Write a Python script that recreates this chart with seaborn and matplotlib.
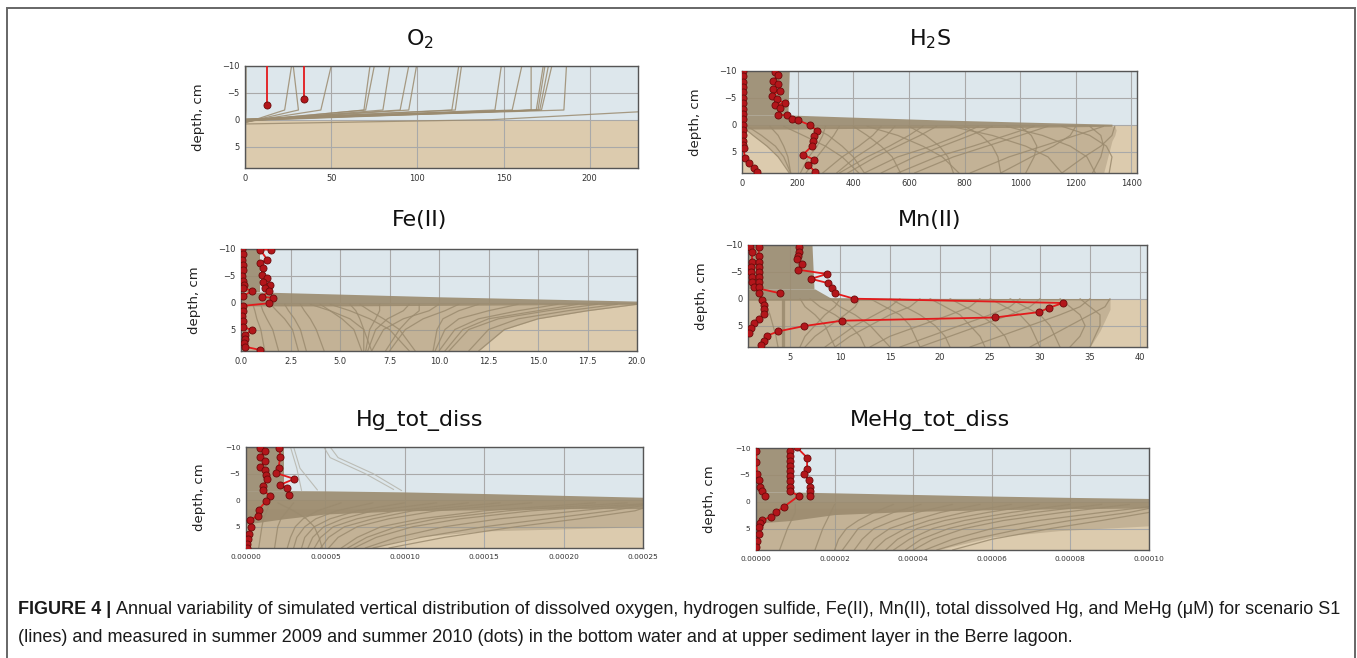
import numpy as np
import pandas as pd
import seaborn as sns
import matplotlib.pyplot as plt
from matplotlib.patches import Rectangle
from matplotlib.ticker import FormatStrFormatter
from matplotlib import font_manager

# ---------------- data ----------------
# O2: simulated profiles (value, depth) and measured points
O2_SIM_X = [[0.6, 0.6, 0.3, 0.3], [27, 23, 0], [28, 31, 0], [50, 44, 0], [72.5, 69, 0],
            [75, 70, 0], [84, 80, 0], [95, 90, 0], [99.5, 95, 0], [124, 120, 0],
            [125.6, 122, 0], [148.7, 145, 0], [160.6, 155, 0], [166, 166, 0],
            [173, 169, 0], [174, 170, 0], [176, 171, 0], [178, 172, 0],
            [186.5, 185, 0], [240, 236, 143, 0]]
O2_SIM_Y = [[-10, -1.8, 0.3, 9], [-10, -1.8, 0.6], [-10, -1.8, 0.5], [-10, -1.8, 0.4],
            [-10, -1.8, 0.3], [-10, -1.8, 0.2], [-10, -1.8, 0.3], [-10, -1.8, 0.1],
            [-10, -1.8, 0.2], [-10, -1.8, 0.0], [-10, -1.8, 0.1], [-10, -1.8, 0.0],
            [-10, -1.8, 0.1], [-10, -1.8, -0.1], [-10, -1.8, 0.0], [-10, -1.8, 0.1],
            [-10, -1.8, 0.2], [-10, -1.8, -0.1], [-10, -1.8, 0.0], [-10, -1.6, 0.0, 0.8]]
O2_OBS_X = [[13, 13], [34, 34]]
O2_OBS_Y = [[-12, -2.8], [-12, -3.8]]

# H2S
H2S_BUNDLE_DEPTH = [-10, -1.8]
H2S_BUNDLE_HI = [170, 165]
H2S_WEDGE_X = [0, 170, 400, 700, 1000, 1330]
H2S_WEDGE_TOP = [-1.8, -1.8, -1.4, -0.9, -0.5, -0.1]
H2S_WEDGE_BOT = [0.8, 0.8, 0.7, 0.6, 0.5, 0.3]
H2S_MESH_DEPTH = [0.3, 1, 2, 3, 5, 7, 9]
H2S_MESH_LEFT = [0, 15, 40, 65, 110, 145, 170]
H2S_MESH_RIGHT = [1340, 1345, 1340, 1330, 1320, 1310, 1300]
H2S_SED_DEPTH = [0.3, 2, 4, 6, 9]
H2S_SED = [[1340, 1330, 1290, 1230, 1150], [1300, 1200, 1080, 960, 820],
           [1200, 1180, 1120, 1040, 930], [1100, 1000, 880, 760, 620],
           [1000, 1040, 1060, 1050, 1020], [900, 820, 720, 620, 500],
           [800, 860, 900, 920, 930], [700, 640, 560, 480, 380],
           [600, 660, 710, 740, 760], [500, 470, 420, 360, 290],
           [400, 450, 500, 540, 570], [300, 290, 270, 240, 210],
           [250, 310, 360, 400, 440], [1250, 1290, 1300, 1290, 1260],
           [1150, 1250, 1310, 1330, 1320], [950, 1080, 1180, 1240, 1270],
           [750, 900, 1020, 1100, 1150], [650, 600, 530, 450, 350],
           [450, 560, 650, 720, 780], [350, 330, 300, 270, 230],
           [1050, 950, 830, 700, 560], [850, 780, 680, 560, 440],
           [550, 520, 470, 410, 340], [150, 220, 300, 360, 420],
           [0, 40, 90, 130, 170], [20, 70, 120, 150, 175], [100, 130, 150, 165, 175]]
H2S_OBS_X = [[4, 4, 4, 4, 4, 4, 4, 4, 4, 4, 4, 4, 4, 4, 4, 6, 10, 24, 42, 54],
             [120, 128, 111, 128, 111, 135, 108, 126, 155, 120, 138, 128, 161, 179, 203,
              245, 269, 259, 255, 251, 219, 259, 239, 263]]
H2S_OBS_Y = [[-10, -9, -8, -7, -6, -5, -4, -3, -2, -1, 0, 1, 2, 3, 3.7, 4.3, 6.2, 7.2, 8.1, 8.9],
             [-9.9, -9.2, -8.2, -7.6, -6.6, -6.3, -5.4, -4.7, -4.0, -3.7, -3.1, -1.8, -1.8,
              -1.0, -0.8, 0.1, 1.1, 2.1, 3.0, 4.0, 5.6, 6.5, 7.5, 8.8]]

# Fe(II)
FE_BUNDLE_DEPTH = [-10, -2.0]
FE_BUNDLE_HI = [0.95, 0.95]
FE_WEDGE_X = [0, 0.9, 5, 10, 15, 20]
FE_WEDGE_TOP = [-2.0, -2.0, -1.6, -1.1, -0.7, -0.3]
FE_WEDGE_BOT = [0.6, 0.6, 0.6, 0.5, 0.4, 0.3]
FE_MESH_DEPTH = [0.3, 1.5, 3, 5, 9]
FE_MESH_LEFT = [0, 0, 0, 0, 0]
FE_MESH_RIGHT = [20, 17.5, 15, 13.3, 12]
FE_SED_DEPTH = [0.3, 1.5, 3, 5, 9]
FE_SED = [[20, 17.5, 15, 13.3, 12], [18, 15.5, 13, 11.5, 10.5], [16, 14, 12, 10.8, 10],
          [14, 12.5, 11, 10.3, 9.8], [12, 11, 10.2, 9.9, 9.7], [10, 9.5, 8.2, 7.2, 6.6],
          [8.5, 8.2, 7.4, 6.8, 6.4], [7, 7, 6.8, 6.5, 6.3], [5.5, 5.8, 6.0, 6.2, 6.2],
          [4, 4.5, 5.1, 5.7, 6.1], [3, 3.2, 3.5, 3.8, 4.2], [2.2, 2.4, 2.7, 3.0, 3.3],
          [1.5, 1.8, 2.2, 2.6, 2.9], [1.0, 1.1, 1.3, 1.6, 1.9], [0.6, 0.7, 0.8, 1.0, 1.2],
          [19, 16.5, 14, 12.5, 11.5], [17, 15, 12.5, 11.2, 10.3], [11, 10.3, 9.2, 8.3, 7.5],
          [9, 9, 8.5, 8.0, 7.3], [6, 6.5, 7.2, 8, 8.8], [4.5, 5.5, 6.5, 7.5, 8.5],
          [3.5, 4.5, 5.5, 6.2, 6.6]]
FE_OBS_X = [[0.05, 0.1, 0.05, 0.1, 0.1, 0.05, 0.1, 0.15, 0.1, 0.55, 0.1],
            [1.5, 0.96, 1.33, 0.96, 1.1, 1.04, 1.33, 1.13, 1.46, 1.21, 1.43, 1.04, 1.6,
             1.43, 0.08, 0.1, 0.05, 0.1, 0.1, 0.54, 0.2, 0.2, 0.15, 0.2, 0.96]]
FE_OBS_Y = [[-10, -9, -8, -7, -6, -5, -4, -3.3, -2.8, -2.2, -1.2],
            [-9.9, -9.9, -8.0, -7.4, -6.4, -5.2, -4.6, -3.9, -3.3, -2.7, -2.1, -1.1, -0.9,
             0.1, 0.6, 1.5, 2.5, 3.5, 4.5, 5.1, 6.0, 6.8, 7.5, 8.2, 8.8]]

# Mn(II)
MN_BUNDLE_DEPTH = [-10, -1.8]
MN_BUNDLE_HI = [7.2, 7.4]
MN_WEDGE_X = [0.8, 7.5, 9, 20, 37]
MN_WEDGE_TOP = [-1.8, -1.8, -0.2, -0.05, 0]
MN_WEDGE_BOT = [0.3, 0.3, 0.3, 0.3, 0.2]
MN_MESH_DEPTH = [0, 2, 4, 6, 9]
MN_MESH_LEFT = [0.8, 0.8, 0.8, 0.8, 0.8]
MN_MESH_RIGHT = [37, 37, 36.5, 36, 35]
MN_SED_DEPTH = [0, 1.5, 3, 5, 7, 9]
MN_SED = [[4.2] * 6, [4.3] * 6, [4.4] * 6,
          [37, 36.5, 35, 33, 31, 29], [34, 35, 36, 36, 35.5, 35], [30, 29, 27, 24, 21, 18],
          [27, 28.5, 30, 31, 31.5, 32], [24, 23, 21, 18, 15, 13], [21, 22.5, 24, 25.5, 26.5, 27],
          [18, 17, 15, 13, 11, 9.5], [15, 16.5, 18, 19.5, 20.5, 21], [12, 11.5, 10.5, 9, 7.5, 6.5],
          [9, 10, 11.5, 13, 14, 15], [6, 6.5, 7.5, 8.5, 9, 9.5], [2.5, 2.7, 3.0, 3.3, 3.6, 3.8],
          [35, 34, 32, 29, 26, 23], [32, 33, 34, 34.5, 34, 33], [28, 27, 25, 22, 19, 16],
          [25, 26.5, 28, 29, 29.5, 30], [19, 20.5, 22, 23, 24, 24.5], [16, 15, 13.5, 11.5, 10, 8.5],
          [13, 14.5, 16, 17, 17.5, 18], [10, 9.5, 8.5, 7.5, 6.5, 6], [7, 8, 9.5, 11, 12, 12.5]]
MN_OBS_X = [[1.03, 1.2, 1.2, 1.1, 1.1, 1.2, 1.2, 1.37, 4.03],
            [1.87, 1.87, 1.87, 1.87, 1.87, 1.87, 1.87, 1.87, 1.87, 2.2, 2.37, 2.37, 2.37,
             1.87, 1.43, 1.1, 0.87],
            [5.9, 5.9, 5.8, 5.7, 6.2, 5.8, 8.7, 7.1, 8.8, 9.2, 9.5, 11.4, 32.3, 30.9, 29.9,
             25.5, 10.2, 6.4, 3.8, 2.7, 2.4, 2.1]]
MN_OBS_Y = [[-9.6, -8.7, -6.8, -5.9, -5.0, -4.1, -3.2, -2.1, -1.0],
            [-9.6, -8.0, -6.8, -5.9, -5.0, -4.1, -3.2, -2.1, -1.0, 0.2, 1.1, 2.0, 2.9, 3.8,
             4.6, 5.4, 6.3],
            [-9.6, -8.7, -8.0, -7.3, -6.5, -5.4, -4.6, -3.7, -2.9, -2.0, -1.0, 0.0, 0.8, 1.7,
             2.5, 3.5, 4.1, 5.1, 6.1, 6.9, 7.8, 8.7]]

# Hg_tot_diss
HG_BUNDLE_DEPTH = [-10, -1.8]
HG_BUNDLE_HI = [2.4e-5, 2.4e-5]
HG_LIGHT_X = [[2.8e-5, 3.2e-5, 3.5e-5], [4.9e-5, 5.3e-5, 7.5e-5, 9.3e-5],
              [5.3e-5, 5.8e-5, 8.0e-5, 9.8e-5], [3.0e-5, 3.4e-5, 4.5e-5]]
HG_LIGHT_Y = [[-10, -6, -1.8], [-10, -8, -5, -2], [-10, -8, -5, -1.8], [-10, -6, -1.9]]
HG_WEDGE_X = [0, 2.4e-5, 5e-5, 1e-4, 1.5e-4, 2e-4, 2.5e-4]
HG_WEDGE_TOP = [-1.8, -1.8, -1.75, -1.55, -1.25, -0.9, -0.55]
HG_WEDGE_BOT = [4.5, 3.5, 2.6, 2.0, 1.8, 1.6, 1.6]
HG_MESH_DEPTH = [1.6, 5.0, 5.8, 7, 9]
HG_MESH_LEFT = [0, 0, 0, 0, 0]
HG_MESH_RIGHT = [2.5e-4, 2.5e-4, 1.5e-4, 1.05e-4, 8e-5]
HG_SED_DEPTH = [0.5, 2, 3.5, 5, 7, 9]
HG_SED = [[2.6e-4, 2.3e-4, 1.9e-4, 1.5e-4, 1.1e-4, 8.0e-5],
          [2.6e-4, 2.1e-4, 1.6e-4, 1.25e-4, 9.5e-5, 7.5e-5],
          [2.6e-4, 1.8e-4, 1.35e-4, 1.05e-4, 8.2e-5, 6.8e-5],
          [2.2e-4, 1.5e-4, 1.1e-4, 8.5e-5, 7.0e-5, 6.0e-5],
          [1.8e-4, 1.2e-4, 9.0e-5, 7.0e-5, 5.8e-5, 5.2e-5],
          [1.4e-4, 9.5e-5, 7.0e-5, 5.5e-5, 4.7e-5, 4.3e-5],
          [1.0e-4, 7.0e-5, 5.3e-5, 4.3e-5, 3.7e-5, 3.5e-5],
          [6.0e-5, 4.5e-5, 3.6e-5, 3.1e-5, 2.8e-5, 2.6e-5],
          [3.0e-5, 2.6e-5, 2.2e-5, 2.0e-5, 1.9e-5, 1.8e-5],
          [1.5e-5, 1.3e-5, 1.1e-5, 1.0e-5, 0.9e-5, 0.8e-5],
          [2.0e-5, 3.0e-5, 3.8e-5, 4.3e-5, 4.6e-5, 4.8e-5],
          [2.6e-4, 2.45e-4, 2.1e-4, 1.7e-4, 1.25e-4, 9.0e-5],
          [2.4e-4, 1.65e-4, 1.2e-4, 9.5e-5, 7.6e-5, 6.4e-5],
          [1.6e-4, 1.05e-4, 8.0e-5, 6.2e-5, 5.2e-5, 4.7e-5],
          [1.2e-4, 8.0e-5, 6.1e-5, 4.9e-5, 4.2e-5, 3.9e-5],
          [8.0e-5, 5.7e-5, 4.4e-5, 3.7e-5, 3.2e-5, 3.0e-5]]
HG_OBS_X = [[0.9e-5, 1.2e-5, 0.86e-5, 1.2e-5, 0.9e-5, 1.2e-5, 1.28e-5, 1.32e-5, 1.1e-5,
             1.1e-5, 1.49e-5, 1.28e-5, 0.8e-5, 0.73e-5, 0.27e-5, 0.31e-5, 0.17e-5,
             0.13e-5, 0.06e-5, 0.06e-5],
            [2.1e-5, 2.16e-5, 2.05e-5, 1.9e-5, 3.04e-5, 2.16e-5, 2.58e-5, 2.68e-5]]
HG_OBS_Y = [[-9.9, -9.3, -8.2, -7.4, -6.3, -5.6, -4.8, -4.0, -2.7, -1.9, -0.8, 0.1, 1.8,
             2.9, 3.8, 5.0, 6.4, 7.4, 8.3, 9.0],
            [-9.9, -8.2, -6.1, -5.1, -4.0, -2.9, -2.2, -1.0]]

# MeHg_tot_diss
MEHG_BUNDLE_DEPTH = [-10, -1.8]
MEHG_BUNDLE_HI = [0.9e-5, 0.95e-5]
MEHG_WEDGE_X = [0, 0.9e-5, 2e-5, 4e-5, 6e-5, 8e-5, 1e-4]
MEHG_WEDGE_TOP = [-1.8, -1.8, -1.65, -1.35, -1.05, -0.8, -0.6]
MEHG_WEDGE_BOT = [4.0, 3.5, 2.4, 1.8, 1.5, 1.3, 1.2]
MEHG_MESH_DEPTH = [1.2, 4.5, 5.4, 6.6, 9]
MEHG_MESH_LEFT = [0, 0, 0, 0, 0]
MEHG_MESH_RIGHT = [1e-4, 1e-4, 7.7e-5, 6e-5, 4.6e-5]
MEHG_SED_DEPTH = [0.5, 2, 3.5, 5, 7, 9]
MEHG_SED = [[1.05e-4, 9.5e-5, 8.0e-5, 6.8e-5, 5.5e-5, 4.6e-5],
            [1.05e-4, 8.8e-5, 7.2e-5, 6.0e-5, 5.0e-5, 4.3e-5],
            [9.5e-5, 7.8e-5, 6.3e-5, 5.3e-5, 4.5e-5, 4.0e-5],
            [8.0e-5, 6.5e-5, 5.3e-5, 4.5e-5, 3.9e-5, 3.5e-5],
            [6.5e-5, 5.3e-5, 4.4e-5, 3.8e-5, 3.3e-5, 3.0e-5],
            [5.0e-5, 4.1e-5, 3.5e-5, 3.0e-5, 2.7e-5, 2.5e-5],
            [3.5e-5, 3.0e-5, 2.6e-5, 2.3e-5, 2.1e-5, 2.0e-5],
            [2.0e-5, 1.9e-5, 1.8e-5, 1.7e-5, 1.6e-5, 1.5e-5],
            [1.0e-5, 1.0e-5, 0.9e-5, 0.8e-5, 0.7e-5, 0.6e-5],
            [1.05e-4, 1.0e-4, 8.8e-5, 7.5e-5, 6.0e-5, 5.0e-5],
            [8.8e-5, 7.1e-5, 5.8e-5, 4.9e-5, 4.2e-5, 3.8e-5],
            [7.2e-5, 5.9e-5, 4.8e-5, 4.1e-5, 3.6e-5, 3.3e-5],
            [5.7e-5, 4.7e-5, 4.0e-5, 3.4e-5, 3.0e-5, 2.8e-5],
            [4.2e-5, 3.5e-5, 3.0e-5, 2.6e-5, 2.4e-5, 2.2e-5]]
MEHG_OBS_X = [[0.01e-5, 0.01e-5, 0.03e-5, 0.07e-5, 0.09e-5, 0.15e-5, 0.24e-5],
              [0.87e-5, 0.87e-5, 0.87e-5, 0.87e-5, 0.87e-5, 0.87e-5, 0.87e-5, 0.87e-5,
               0.87e-5, 1.09e-5, 0.7e-5, 0.52e-5, 0.38e-5, 0.15e-5, 0.09e-5, 0.07e-5,
               0.07e-5, 0.03e-5, 0.01e-5],
              [1.04e-5, 1.3e-5, 1.3e-5, 1.21e-5, 1.34e-5, 1.38e-5, 1.38e-5, 1.38e-5]]
MEHG_OBS_Y = [[-9.5, -7.3, -5.1, -4.1, -2.8, -1.9, -1.1],
              [-9.5, -8.5, -7.6, -6.6, -5.7, -4.7, -3.8, -2.8, -1.9, -1.1, 1.0, 1.9, 2.8,
               3.5, 4.0, 4.7, 6.0, 7.3, 8.5],
              [-10.1, -8.2, -6.0, -5.1, -4.1, -2.8, -1.9, -1.1]]

TITLES = ['O$_2$', 'H$_2$S', 'Fe(II)', 'Mn(II)', 'Hg_tot_diss', 'MeHg_tot_diss']
XLIMS = [(0, 228), (0, 1420), (0, 20), (0.8, 40.7), (0, 2.5e-4), (0, 1e-4)]
XTICKS = [[0, 50, 100, 150, 200], [0, 200, 400, 600, 800, 1000, 1200, 1400],
          [0, 2.5, 5, 7.5, 10, 12.5, 15, 17.5, 20], [5, 10, 15, 20, 25, 30, 35, 40],
          [0, 5e-5, 1e-4, 1.5e-4, 2e-4, 2.5e-4], [0, 2e-5, 4e-5, 6e-5, 8e-5, 1e-4]]
XFMT = ['%d', '%d', '%.1f', '%d', '%.5f', '%.5f']
YTICKS = [-10, -5, 0, 5]

CAPTION_BOLD = 'FIGURE 4 | '
CAPTION_1 = ('Annual variability of simulated vertical distribution of dissolved oxygen, '
             'hydrogen sulfide, Fe(II), Mn(II), total dissolved Hg, and MeHg (\u03bcM) for scenario S1')
CAPTION_2 = ('(lines) and measured in summer 2009 and summer 2010 (dots) in the bottom water '
             'and at upper sediment layer in the Berre lagoon.')

# ---------------- style ----------------
WATER = '#dde7ec'
SEDIMENT = '#dccbae'
SIM = '#9b8b6f'
OBS_LINE = '#e31a1c'
OBS_FACE = '#b3161b'
OBS_EDGE = '#6a0b0b'

sns.set_theme(style='whitegrid')
plt.rcParams['font.family'] = ['DejaVu Sans']

W, H = 1357, 658
fig = plt.figure(figsize=(W / 100, H / 100), dpi=100)

# axes boxes in pixels: left, top, right, bottom
BOXES = [(245, 66, 638, 168), (742, 71, 1137, 173), (241, 249, 637, 351),
         (748, 245, 1147, 347), (246, 447, 643, 548), (756, 448, 1149, 550)]
TITLE_X = [420, 930, 420, 930, 420, 930]
TITLE_PAD = [21, 26, 23, 19, 21, 22]

panels = [
    dict(sim_x=O2_SIM_X, sim_y=O2_SIM_Y, obs_x=O2_OBS_X, obs_y=O2_OBS_Y),
    dict(bundle=(H2S_BUNDLE_DEPTH, H2S_BUNDLE_HI), wedge=(H2S_WEDGE_X, H2S_WEDGE_TOP, H2S_WEDGE_BOT),
         mesh=(H2S_MESH_DEPTH, H2S_MESH_LEFT, H2S_MESH_RIGHT), sim_x=H2S_SED,
         sim_y=[H2S_SED_DEPTH] * len(H2S_SED), obs_x=H2S_OBS_X, obs_y=H2S_OBS_Y),
    dict(bundle=(FE_BUNDLE_DEPTH, FE_BUNDLE_HI), wedge=(FE_WEDGE_X, FE_WEDGE_TOP, FE_WEDGE_BOT),
         mesh=(FE_MESH_DEPTH, FE_MESH_LEFT, FE_MESH_RIGHT), sim_x=FE_SED,
         sim_y=[FE_SED_DEPTH] * len(FE_SED), obs_x=FE_OBS_X, obs_y=FE_OBS_Y),
    dict(bundle=(MN_BUNDLE_DEPTH, MN_BUNDLE_HI), wedge=(MN_WEDGE_X, MN_WEDGE_TOP, MN_WEDGE_BOT),
         mesh=(MN_MESH_DEPTH, MN_MESH_LEFT, MN_MESH_RIGHT), sim_x=MN_SED,
         sim_y=[MN_SED_DEPTH] * len(MN_SED), obs_x=MN_OBS_X, obs_y=MN_OBS_Y),
    dict(bundle=(HG_BUNDLE_DEPTH, HG_BUNDLE_HI), wedge=(HG_WEDGE_X, HG_WEDGE_TOP, HG_WEDGE_BOT),
         mesh=(HG_MESH_DEPTH, HG_MESH_LEFT, HG_MESH_RIGHT), sim_x=HG_SED,
         sim_y=[HG_SED_DEPTH] * len(HG_SED), light=(HG_LIGHT_X, HG_LIGHT_Y),
         obs_x=HG_OBS_X, obs_y=HG_OBS_Y),
    dict(bundle=(MEHG_BUNDLE_DEPTH, MEHG_BUNDLE_HI), wedge=(MEHG_WEDGE_X, MEHG_WEDGE_TOP, MEHG_WEDGE_BOT),
         mesh=(MEHG_MESH_DEPTH, MEHG_MESH_LEFT, MEHG_MESH_RIGHT), sim_x=MEHG_SED,
         sim_y=[MEHG_SED_DEPTH] * len(MEHG_SED), obs_x=MEHG_OBS_X, obs_y=MEHG_OBS_Y),
]


def long_frame(xs, ys):
    rows = []
    for i, (x, y) in enumerate(zip(xs, ys)):
        for a, b in zip(x, y):
            rows.append((i, a, b))
    return pd.DataFrame(rows, columns=['profile', 'value', 'depth'])


for i, p in enumerate(panels):
    l, t, r, b = BOXES[i]
    ax = fig.add_axes([l / W, 1 - b / H, (r - l) / W, (b - t) / H])
    x0 = XLIMS[i][0]
    ax.axhspan(-10, 0, color=WATER, lw=0, zorder=0.1)
    ax.axhspan(0, 9, color=SEDIMENT, lw=0, zorder=0.1)

    if 'mesh' in p:
        d, left, right = p['mesh']
        ax.fill_betweenx(d, left, right, color=SIM, alpha=0.38, lw=0, zorder=1)
    if 'bundle' in p:
        d, hi = p['bundle']
        ax.fill_betweenx(d, x0, hi, color=SIM, alpha=0.9, lw=0, zorder=1)
    if 'wedge' in p:
        wx, wt, wb = p['wedge']
        ax.fill_between(wx, wt, wb, color=SIM, alpha=0.9, lw=0, zorder=1)
    if 'light' in p:
        lx, ly = p['light']
        sns.lineplot(data=long_frame(lx, ly), x='value', y='depth', units='profile',
                     estimator=None, sort=False, color='#b8b8b0', lw=0.8, alpha=0.9,
                     legend=False, ax=ax, zorder=1.5)

    sns.lineplot(data=long_frame(p['sim_x'], p['sim_y']), x='value', y='depth', units='profile',
                 estimator=None, sort=False, color=SIM, lw=0.9, alpha=0.85,
                 legend=False, ax=ax, zorder=2)

    obs = long_frame(p['obs_x'], p['obs_y'])
    sns.lineplot(data=obs, x='value', y='depth', units='profile', estimator=None, sort=False,
                 color=OBS_LINE, lw=1.3, legend=False, ax=ax, zorder=3)
    sns.scatterplot(data=obs, x='value', y='depth', color=OBS_FACE, edgecolor=OBS_EDGE,
                    s=26, linewidth=0.6, legend=False, ax=ax, zorder=4)

    ax.set_xlim(*XLIMS[i])
    ax.set_ylim(9, -10)
    ax.set_xticks(XTICKS[i])
    ax.set_yticks(YTICKS)
    ax.xaxis.set_major_formatter(FormatStrFormatter(XFMT[i]))
    ax.set_axisbelow(True)
    ax.grid(True, color='#a9a9a9', lw=0.8)
    ax.tick_params(axis='both', length=0, pad=4, colors='#333333',
                   labelsize=5.3 if i >= 4 else 6)
    for s in ax.spines.values():
        s.set_color('#555555')
        s.set_linewidth(1)
    ax.set_xlabel('')
    ax.set_ylabel('depth, cm', fontsize=9.5, color='#222222')
    ax.yaxis.set_label_coords(-40 / (r - l), 0.5)
    ax.set_title(TITLES[i], fontsize=16, color='#111111',
                 x=(TITLE_X[i] - l) / (r - l), pad=TITLE_PAD[i] * 0.72)

# frame around the whole figure
fig.add_artist(Rectangle((7 / W, -0.05), (1355 - 7) / W, 1 - 8 / H + 0.05,
                         transform=fig.transFigure, fill=False, ec='#666666', lw=1.4))

# caption, fitted to the width of the original text block
names = {f.name for f in font_manager.fontManager.ttflist}
cap_font = 'Liberation Sans Narrow' if 'Liberation Sans Narrow' in names else 'Liberation Sans'
renderer = fig.canvas.get_renderer()
size = 10
tb = fig.text(18 / W, 1 - 610 / H, CAPTION_BOLD, fontsize=size, fontweight='bold',
              family=cap_font, va='center', color='#1a1a1a')
t1 = fig.text(0, 1 - 610 / H, CAPTION_1, fontsize=size, family=cap_font, va='center', color='#1a1a1a')
wb = tb.get_window_extent(renderer).width
w1 = t1.get_window_extent(renderer).width
size = size * (1340 - 18) / (wb + w1)
tb.set_fontsize(size)
t1.set_fontsize(size)
wb = tb.get_window_extent(renderer).width
t1.set_x((18 + wb) / W)
fig.text(18 / W, 1 - 637 / H, CAPTION_2, fontsize=size, family=cap_font, va='center', color='#1a1a1a')

fig.savefig('out.png', dpi=100)
